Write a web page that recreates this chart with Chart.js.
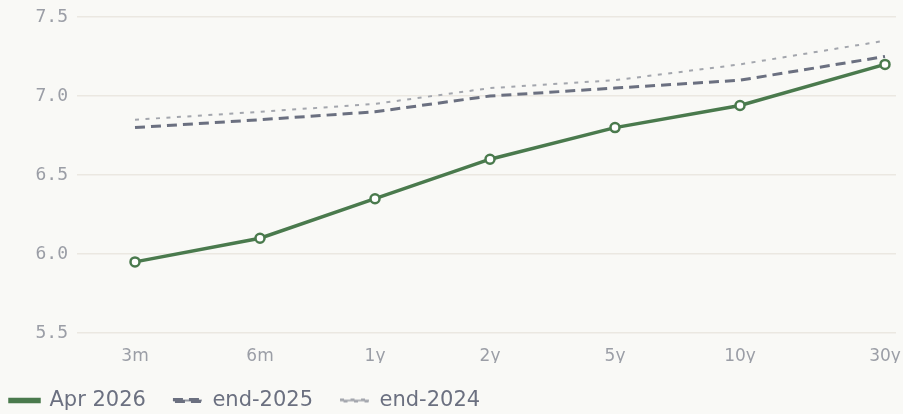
<!DOCTYPE html>
<html>
<head>
<meta charset="utf-8">
<script src="https://cdn.jsdelivr.net/npm/chart.js@4/dist/chart.umd.min.js"></script>
<style>
  html, body { margin: 0; padding: 0; background: #f9f9f6; }
  #wrap { width: 903px; height: 414px; position: relative; }
</style>
</head>
<body>
<div id="wrap"><canvas id="curve"></canvas></div>
<script>
// tenors and where they sit along the axis (spacing is uneven)
const tenors = ['3m', '6m', '1y', '2y', '5y', '10y', '30y'];
const tenorX = [0, 1, 1.92, 2.84, 3.84, 4.84, 6];

const apr2026 = [5.95, 6.10, 6.35, 6.60, 6.80, 6.94, 7.20];
const end2025 = [6.80, 6.85, 6.90, 7.00, 7.05, 7.10, 7.25];
const end2024 = [6.85, 6.90, 6.95, 7.05, 7.10, 7.20, 7.35];

const yTicks = [5.5, 6.0, 6.5, 7.0, 7.5];

const toPoints = (vals) => vals.map((v, i) => ({ x: tenorX[i], y: v }));

const tickColor = '#9b9ea6';
const gridColor = '#ebe8e1';

// legend items sit further apart than its left inset, pull the block back a bit
const legendShift = {
    id: 'legendShift',
    afterLayout(chart) {
        if (chart.legend) chart.legend.left = -17;
    }
};

const data = {
    datasets: [{
        label: 'Apr 2026',
        data: toPoints(apr2026),
        borderColor: '#4a7a4d',
        backgroundColor: '#4a7a4d',
        borderWidth: 3.5,
        pointRadius: 4.5,
        pointBorderWidth: 2.5,
        pointBackgroundColor: '#ffffff',
        pointBorderColor: '#4a7a4d',
        tension: 0
    }, {
        label: 'end-2025',
        data: toPoints(end2025),
        borderColor: '#6b7080',
        backgroundColor: 'rgba(107,112,128,0.7)',
        borderWidth: 3,
        borderDash: [10, 6],
        pointRadius: 0,
        tension: 0
    }, {
        label: 'end-2024',
        data: toPoints(end2024),
        borderColor: '#a3a6ad',
        backgroundColor: 'rgba(163,166,173,0.8)',
        borderWidth: 2,
        borderDash: [4, 6.5],
        pointRadius: 0,
        tension: 0
    }]
};

const config = {
    type: 'line',
    data: data,
    plugins: [legendShift],
    options: {
        responsive: true,
        maintainAspectRatio: false,
        animation: false,
        layout: { padding: { top: 17, right: 0, left: 0, bottom: 0 } },
        scales: {
            x: {
                type: 'linear',
                min: -0.464,
                max: 6.088,
                afterBuildTicks: (axis) => {
                    axis.ticks = tenorX.map(v => ({ value: v }));
                },
                afterFit: (axis) => {
                    axis.height = 30;
                    axis.paddingLeft = 0;
                    axis.paddingRight = 0;
                },
                grid: { display: false, drawTicks: false },
                border: { display: false },
                ticks: {
                    color: tickColor,
                    padding: 15,
                    maxRotation: 0,
                    autoSkip: false,
                    font: { size: 17, family: 'DejaVu Sans', lineHeight: 1 },
                    callback: (v, i) => tenors[i]
                }
            },
            y: {
                min: 5.5,
                max: 7.5,
                afterBuildTicks: (axis) => {
                    axis.ticks = yTicks.map(v => ({ value: v }));
                },
                afterFit: (axis) => {
                    axis.width = 77;
                    axis.paddingTop = 0;
                    axis.paddingBottom = 0;
                },
                grid: {
                    color: gridColor,
                    lineWidth: 1.5,
                    drawTicks: false
                },
                border: { display: false },
                ticks: {
                    color: tickColor,
                    padding: 9,
                    font: { size: 18, family: 'DejaVu Sans Mono' },
                    callback: (v) => v.toFixed(1)
                }
            }
        },
        plugins: {
            legend: {
                position: 'bottom',
                align: 'start',
                maxHeight: 51,
                labels: {
                    color: '#6b7080',
                    boxWidth: 29,
                    boxHeight: 2,
                    padding: 27,
                    font: { size: 21, family: 'DejaVu Sans' }
                }
            },
            tooltip: { enabled: false }
        }
    }
};

new Chart(document.getElementById('curve'), config);
</script>
</body>
</html>
